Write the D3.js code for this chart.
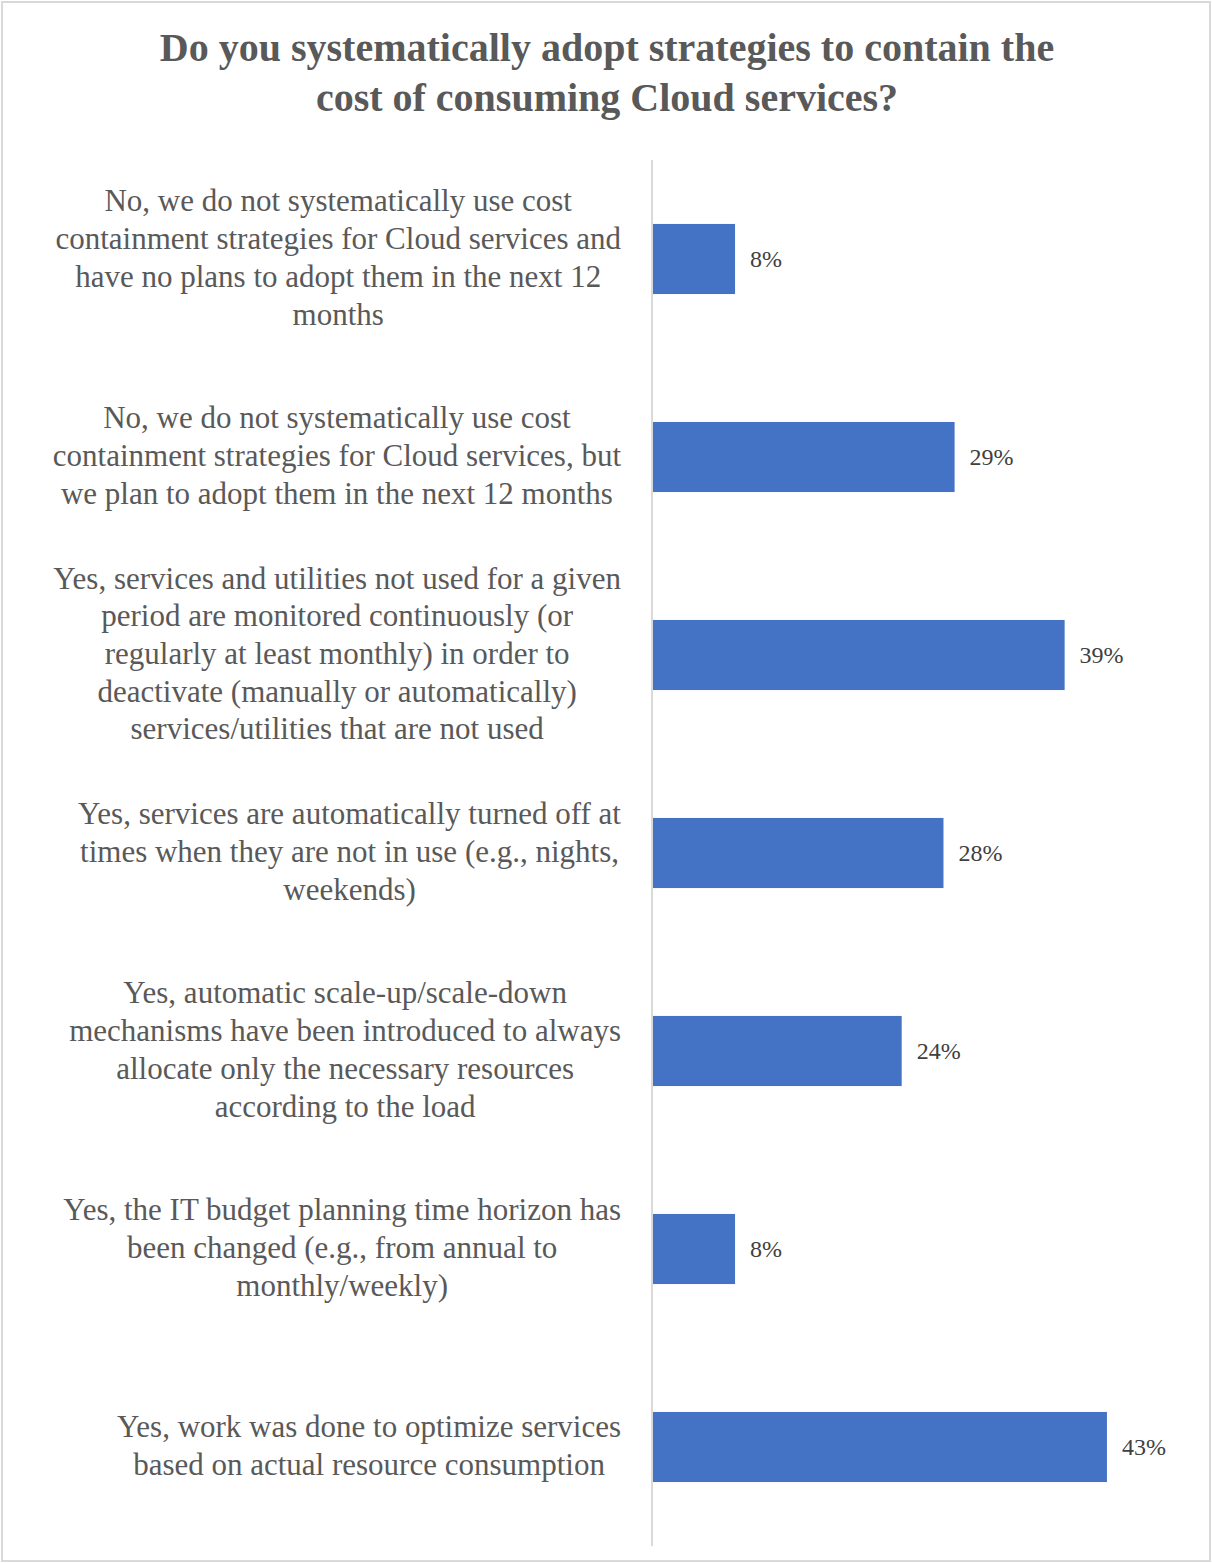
<!DOCTYPE html>
<html>
<head>
<meta charset="utf-8">
<script src="https://cdn.jsdelivr.net/npm/d3@7.9.0/dist/d3.min.js"></script>
<style>
  body { margin: 0; background: #fff; }
  svg text { font-family: "Liberation Serif", "DejaVu Serif", serif; }
</style>
</head>
<body>
<div id="chart"></div>
<script>
const width = 1212;
const height = 1563;

const titleLines = [
  "Do you systematically adopt strategies to contain the",
  "cost of consuming Cloud services?"
];

const categories = [
  ["No, we do not systematically use cost", "containment strategies for Cloud services and", "have no plans to adopt them in the next 12", "months"],
  ["No, we do not systematically use cost", "containment strategies for Cloud services, but", "we plan to adopt them in the next 12 months"],
  ["Yes, services and utilities not used for a given", "period are monitored continuously (or", "regularly at least monthly) in order to", "deactivate (manually or automatically)", "services/utilities that are not used"],
  ["Yes, services are automatically turned off at", "times when they are not in use (e.g., nights,", "weekends)"],
  ["Yes, automatic scale-up/scale-down", "mechanisms have been introduced to always", "allocate only the necessary resources", "according to the load"],
  ["Yes, the IT budget planning time horizon has", "been changed (e.g., from annual to", "monthly/weekly)"],
  ["Yes, work was done to optimize services", "based on actual resource consumption"]
];

// labels show them rounded
const values = [0.0785, 0.286, 0.390, 0.2755, 0.236, 0.0785, 0.430];

const usableArea = { top: 160, bottom: 1546, left: 652, right: 1181 };

const svg = d3.select('#chart')
  .append('svg')
  .attr('viewBox', `0 0 ${width} ${height}`)
  .attr('width', width)
  .attr('height', height);

// frame
svg.append('rect')
  .attr('x', 2).attr('y', 2)
  .attr('width', width - 4).attr('height', height - 4)
  .attr('fill', '#fff')
  .attr('stroke', '#d9d9d9')
  .attr('stroke-width', 2);

// title
svg.append('text')
  .attr('x', 607)
  .attr('y', 61)
  .attr('text-anchor', 'middle')
  .attr('fill', '#595959')
  .attr('font-size', 40)
  .attr('font-weight', 'bold')
  .selectAll('tspan')
  .data(titleLines)
  .join('tspan')
  .attr('x', 607)
  .attr('dy', (d, i) => i === 0 ? 0 : 50)
  .text(d => d);

const idx = categories.map((d, i) => i);

const yScale = d3.scaleBand()
  .domain(idx)
  .range([usableArea.top, usableArea.bottom])
  .paddingInner(0.646)
  .paddingOuter(0.323);

const xScale = d3.scaleLinear()
  .domain([0, 0.5])
  .range([usableArea.left, usableArea.right]);

// bars
svg.append('g')
  .selectAll('rect')
  .data(values)
  .join('rect')
  .attr('x', xScale(0) + 1)
  .attr('y', (d, i) => yScale(i))
  .attr('width', d => xScale(d) - xScale(0) - 1)
  .attr('height', yScale.bandwidth())
  .attr('fill', '#4472c4');

// value labels
svg.append('g')
  .selectAll('text')
  .data(values)
  .join('text')
  .attr('x', d => xScale(d) + 15)
  .attr('y', (d, i) => yScale(i) + yScale.bandwidth() / 2)
  .attr('dy', '0.35em')
  .attr('fill', '#404040')
  .attr('font-size', 24)
  .text(d => d3.format('.0%')(d));

// category axis
const axis = svg.append('g')
  .attr('transform', `translate(${usableArea.left},0)`)
  .call(d3.axisLeft(yScale).tickSize(0).tickFormat(''));
axis.select('.domain')
  .attr('stroke', '#d9d9d9')
  .attr('stroke-width', 2)
  .attr('d', `M0,${usableArea.top}V${usableArea.bottom}`);

// multi-line category labels, block right edge near 620, lines centred in block
const lineH = 37.7;
const labelRight = 621;
const labels = svg.append('g')
  .attr('fill', '#595959')
  .attr('font-size', 31);

categories.forEach((lines, i) => {
  const cy = yScale(i) + yScale.bandwidth() / 2;
  const t = labels.append('text').attr('text-anchor', 'middle');
  const spans = t.selectAll('tspan')
    .data(lines)
    .join('tspan')
    .attr('dy', (d, j) => j === 0 ? 0 : lineH)
    .text(d => d);
  const maxW = d3.max(spans.nodes(), n => n.getComputedTextLength());
  const cx = labelRight - maxW / 2;
  spans.attr('x', cx);
  t.attr('y', cy - (lines.length - 1) * lineH / 2 + 2)
    .attr('dominant-baseline', 'middle');
});
</script>
</body>
</html>
